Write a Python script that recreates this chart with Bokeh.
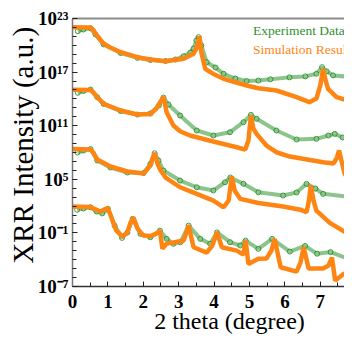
from bokeh.plotting import figure
from bokeh.models import Range1d, FixedTicker, LinearAxis, Legend, LegendItem
from bokeh.embed import file_html
from bokeh.resources import INLINE

# ---- data: 2-theta (degree) and log10 of XRR intensity (a.u.), curves offset ----
c1_sim_x = [0.0, 0.51, 0.60, 0.65, 0.88, 1.07, 1.36, 1.83, 2.20, 2.63, 3.14, 3.42, 3.50, 3.59, 3.64, 3.75, 3.98,
            4.27, 4.92, 5.25, 5.76, 6.33, 6.69, 6.89, 7.00, 7.08, 7.15, 7.22, 7.46, 7.93]
c1_sim_log = [22.03, 21.99, 21.66, 21.29, 20.17, 19.75, 19.23, 18.67, 18.41, 18.22, 18.49, 19.05, 19.64, 21.02, 19.20,
              17.37, 16.79, 16.25, 15.50, 15.19, 14.94, 14.19, 13.63, 14.04, 15.50, 17.37, 16.07, 15.13, 14.19, 13.63]
c1_exp_x = [0.15, 0.31, 0.51, 0.65, 0.88, 1.36, 1.84, 2.20, 2.63, 2.91, 3.14, 3.33, 3.42, 3.50, 3.56, 3.64, 3.79,
            4.04, 4.27, 4.60, 4.92, 5.25, 5.59, 6.13, 6.58, 6.89, 7.05, 7.18, 7.36, 7.93]
c1_exp_log = [21.58, 21.77, 21.91, 21.21, 20.10, 19.14, 18.59, 18.35, 18.24, 18.41, 18.78, 19.19, 19.64, 20.54, 20.91,
              19.98, 18.11, 17.51, 16.81, 16.28, 16.00, 16.05, 16.19, 16.41, 16.52, 16.81, 17.55, 17.08, 16.63, 16.43]

c2_sim_x = [0.0, 0.51, 0.59, 0.70, 0.88, 1.36, 1.83, 2.20, 2.37, 2.49, 2.57, 2.66, 2.85, 3.05, 3.32, 3.98, 4.64,
            4.88, 4.97, 5.04, 5.11, 5.20, 5.48, 5.76, 6.14, 7.08, 7.37, 7.46, 7.53, 7.63, 7.69, 7.88]
c2_sim_log = [15.02, 15.00, 14.72, 14.19, 13.45, 12.70, 12.25, 12.31, 12.92, 13.71, 14.21, 12.51, 11.02, 10.35, 9.90,
              9.23, 8.59, 8.33, 9.34, 12.14, 10.68, 10.09, 8.78, 8.03, 7.55, 6.91, 6.77, 7.32, 8.22, 6.54, 5.61, 4.49]
c2_exp_x = [0.15, 0.31, 0.51, 0.70, 0.88, 1.36, 1.83, 2.20, 2.44, 2.57, 2.71, 3.04, 3.51, 3.98, 4.45, 4.83, 5.04,
            5.20, 5.76, 6.33, 6.89, 7.23, 7.41, 7.63, 7.93]
c2_exp_log = [14.68, 14.88, 15.05, 14.19, 13.43, 12.64, 12.25, 12.36, 13.26, 14.15, 13.37, 12.14, 10.46, 9.90, 10.27,
              11.39, 12.22, 11.77, 10.46, 9.45, 9.53, 9.90, 10.09, 9.68, 9.53]

c3_sim_x = [0.0, 0.51, 0.59, 0.70, 1.07, 1.55, 2.01, 2.20, 2.26, 2.32, 2.40, 2.49, 2.63, 3.04, 3.51, 3.98, 4.27,
            4.41, 4.50, 4.58, 4.74, 5.25, 5.95, 6.44, 6.61, 6.68, 6.73, 6.81, 6.89, 7.27, 7.88]
c3_sim_log = [8.39, 8.33, 8.00, 7.21, 6.43, 5.87, 5.64, 6.54, 7.32, 7.94, 6.77, 5.98, 5.20, 4.11, 3.37, 2.62, 1.87,
              2.62, 5.31, 3.74, 2.81, 2.35, 1.95, 1.60, 1.31, 2.62, 4.32, 2.62, 1.50, 0.13, -1.34]
c3_exp_x = [0.14, 0.31, 0.51, 0.70, 1.07, 1.55, 2.01, 2.20, 2.32, 2.43, 2.57, 3.04, 3.51, 3.98, 4.31, 4.46, 4.83,
            5.25, 5.95, 6.33, 6.61, 6.86, 7.08, 7.93]
c3_exp_log = [8.00, 8.22, 8.39, 7.10, 6.32, 5.76, 5.70, 6.73, 7.92, 7.10, 5.98, 4.86, 4.11, 3.75, 4.67, 5.20, 4.49,
              3.55, 3.18, 3.52, 4.49, 3.97, 3.37, 3.00]

c4_sim_x = [0.0, 0.51, 0.65, 0.79, 0.90, 1.00, 1.13, 1.24, 1.41, 1.55, 1.64, 1.72, 1.84, 2.00, 2.20, 2.37, 2.47,
            2.54, 2.66, 2.85, 3.14, 3.28, 3.42, 3.79, 3.95, 4.08, 4.22, 4.64, 4.83, 4.89, 4.97, 5.25, 5.48, 5.62,
            5.71, 5.88, 6.33, 6.44, 6.53, 6.67, 7.08, 7.23, 7.33, 7.42, 7.66, 7.91]
c4_sim_log = [1.95, 1.90, 1.63, 1.40, 1.63, 1.79, 0.38, -0.74, -1.41, -0.96, 0.16, 0.72, -0.52, -1.30, -1.36, -1.08,
              -0.75, -2.76, -2.20, -2.08, -1.86, -0.18, -2.61, -3.20, -2.42, -0.93, -2.61, -2.98, -3.43, -1.86,
              -4.47, -3.90, -3.86, -2.98, -1.67, -4.85, -5.33, -4.32, -2.61, -4.99, -4.99, -4.66, -3.76, -6.34,
              -5.59, -5.33]
c4_exp_x = [0.13, 0.31, 0.51, 0.68, 0.84, 1.00, 1.19, 1.40, 1.55, 1.70, 1.92, 2.20, 2.47, 2.66, 2.85, 3.05, 3.28,
            3.61, 3.89, 4.08, 4.45, 4.74, 4.89, 5.25, 5.64, 6.14, 6.57, 6.91, 7.29, 7.93]
c4_exp_log = [1.59, 1.73, 1.87, 1.39, 1.18, 1.69, -0.18, -1.56, -0.96, 0.57, -1.11, -1.49, -0.75, -1.67, -2.22,
              -2.04, -0.18, -1.67, -2.22, -0.95, -2.04, -2.41, -1.86, -2.79, -1.67, -3.09, -2.46, -3.33, -3.15,
              -4.08]

y_tick_exponents = [-7, -1, 5, 11, 17, 23]
x_ticks = [0, 1, 2, 3, 4, 5, 6, 7, 8]
legend_labels = ["Experiment Data", "Simulation Result"]
x_title = "2 theta (degree)"
y_title = "XRR Intensity (a.u.)"

SERIF = "Liberation Serif"
GREEN = "#2e962e"
GREEN_TXT = "#2f8f2f"
ORANGE = "#ff8513"
SUP = str.maketrans("0123456789-", "\u2070\u00b9\u00b2\u00b3\u2074\u2075\u2076\u2077\u2078\u2079\u207b")

p = figure(frame_width=272, frame_height=268,
           min_border_left=72, min_border_right=0, min_border_top=18, min_border_bottom=49,
           x_range=Range1d(0, 7.684), y_range=Range1d(-7, 23),
           output_backend="svg", toolbar_location=None,
           outline_line_color=None, background_fill_color="white", border_fill_color="white")
p.grid.visible = False

exp_sets = [(c1_exp_x, c1_exp_log), (c2_exp_x, c2_exp_log), (c3_exp_x, c3_exp_log), (c4_exp_x, c4_exp_log)]
sim_sets = [(c1_sim_x, c1_sim_log), (c2_sim_x, c2_sim_log), (c3_sim_x, c3_sim_log), (c4_sim_x, c4_sim_log)]

for xs, ys in exp_sets:
    p.line(xs, ys, line_color=GREEN, line_width=4, line_alpha=0.55)
    p.scatter(xs, ys, marker="circle", size=5, fill_color=None, line_color="#238a23", line_alpha=0.85,
              line_width=1)
for xs, ys in sim_sets:
    p.line(xs, ys, line_color=ORANGE, line_width=4.5)

# axes
xa = p.xaxis[0]
xa.ticker = FixedTicker(ticks=x_ticks, minor_ticks=[0.5 * i for i in range(17)])
ya = p.yaxis[0]
ya.ticker = FixedTicker(ticks=y_tick_exponents, minor_ticks=list(range(-7, 24)))
ya.major_label_overrides = {e: "10" + str(e).translate(SUP) for e in y_tick_exponents}
for ax in (xa, ya):
    ax.major_tick_in = 5
    ax.major_tick_out = 0
    ax.minor_tick_in = 4
    ax.minor_tick_out = 0
    ax.major_tick_line_color = "#222222"
    ax.minor_tick_line_color = "#222222"
    ax.axis_line_color = "#333333"
    ax.axis_line_width = 1.5
    ax.major_label_text_font = SERIF
    ax.major_label_text_font_size = "19px"
    ax.major_label_text_font_style = "bold"
    ax.major_label_text_color = "black"
    ax.axis_label_text_font = SERIF
    ax.axis_label_text_font_style = "normal"
    ax.axis_label_text_color = "black"
ya.axis_line_color = "#777777"
xa.major_label_standoff = 8
ya.major_label_standoff = 4
ya.axis_label = "\u00a0\u00a0" + y_title
ya.axis_label_text_font_size = "29px"
ya.axis_label_standoff = -4
xa.axis_label = "\u00a0" * 7 + x_title
xa.axis_label_text_font_size = "24px"
xa.axis_label_standoff = -3

top = LinearAxis(ticker=FixedTicker(ticks=[]), major_tick_in=0, major_tick_out=0, minor_tick_in=0,
                 minor_tick_out=0, major_label_text_font_size="0px", major_label_standoff=0,
                 axis_line_color="#8c8c8c", axis_line_width=2)
p.add_layout(top, "above")

# legend
r_exp_leg = p.scatter(x=[], y=[], marker="circle", size=4, fill_color=None, line_color="#5aae5a", line_width=1)
r_sim_leg = p.line(x=[], y=[], line_color=ORANGE, line_width=2.5, line_dash="11 4 3 4")
for lab, rend, col, vy in [(legend_labels[0], r_exp_leg, GREEN_TXT, 246), (legend_labels[1], r_sim_leg, ORANGE, 227)]:
    lg = Legend(items=[LegendItem(label=lab, renderers=[rend])], location=(146, vy),
                glyph_width=34, glyph_height=19, label_height=19, label_standoff=1,
                padding=0, margin=0, spacing=0, border_line_color=None, background_fill_alpha=0,
                label_text_font=SERIF, label_text_font_size="13.5px",
                label_text_color=col)
    p.add_layout(lg)

open("out.html", "w").write(file_html(p, INLINE))
